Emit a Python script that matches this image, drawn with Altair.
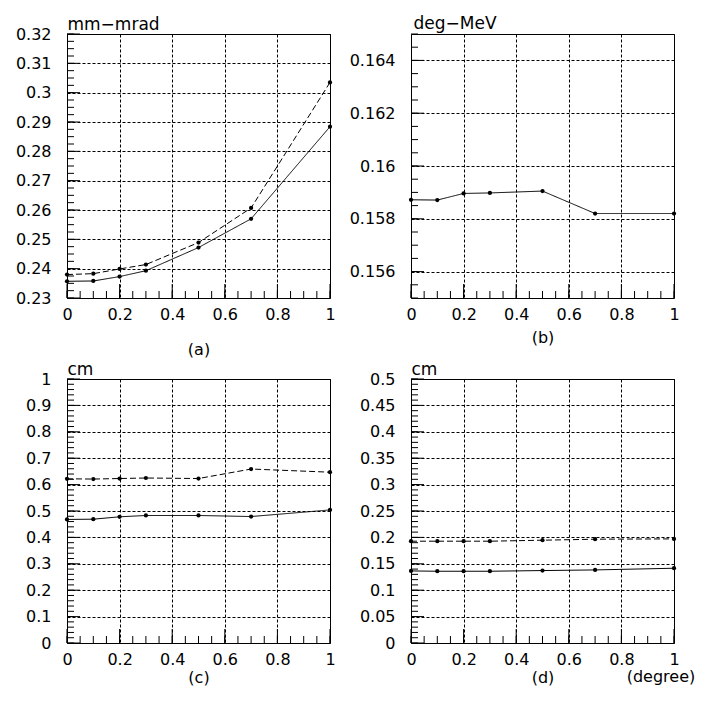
import altair as alt
import numpy as np
import pandas as pd

# ---- data ----
X = [0.0, 0.1, 0.2, 0.3, 0.5, 0.7, 1.0]

a_solid = [0.2357, 0.2358, 0.2373, 0.2393, 0.2472, 0.2570, 0.2884]
a_dashed = [0.2380, 0.2383, 0.2399, 0.2414, 0.2489, 0.2607, 0.3035]
b_solid = [0.15872, 0.15871, 0.15896, 0.15898, 0.15905, 0.15820, 0.15820]
c_solid = [0.468, 0.469, 0.478, 0.483, 0.483, 0.479, 0.504]
c_dashed = [0.622, 0.621, 0.623, 0.625, 0.623, 0.659, 0.647]
d_solid = [0.1365, 0.1359, 0.1359, 0.1359, 0.1372, 0.1384, 0.1416]
d_dashed = [0.1928, 0.1928, 0.1928, 0.1928, 0.1947, 0.1966, 0.1972]

x_ticks = [0, 0.2, 0.4, 0.6, 0.8, 1.0]
a_ticks = [0.23, 0.24, 0.25, 0.26, 0.27, 0.28, 0.29, 0.30, 0.31, 0.32]
b_ticks = [0.156, 0.158, 0.160, 0.162, 0.164]
c_ticks = [0, 0.1, 0.2, 0.3, 0.4, 0.5, 0.6, 0.7, 0.8, 0.9, 1.0]
d_ticks = [0, 0.05, 0.1, 0.15, 0.2, 0.25, 0.3, 0.35, 0.4, 0.45, 0.5]

units = ["mm\u2212mrad", "deg\u2212MeV", "cm", "cm"]
letters = ["(a)", "(b)", "(c)", "(d)"]

W, H = 263, 264
FONT = "DejaVu Sans"


def minor(lo, hi, step):
    n = int(round((hi - lo) / step))
    return [round(lo + i * step, 6) for i in range(n + 1)]


x_minor = minor(0, 1, 0.05)


def panel(series, ydomain, yticks, ystep, unit, letter, letter_y, unit_x=0, unit_y=-5, extra=None):
    rows = []
    for name, vals in series:
        for x, y in zip(X, vals):
            rows.append({"x": x, "y": y, "s": name})
    df = pd.DataFrame(rows)

    xs = alt.X(
        "x:Q",
        scale=alt.Scale(domain=[0, 1], nice=False),
        axis=alt.Axis(
            values=x_ticks, format="~g", grid=True, gridColor="black", gridDash=[3, 2],
            gridOpacity=1, ticks=False, domain=False, labelFont=FONT, labelFontSize=16,
            labelColor="black", labelPadding=8, labelFlush=False,
            title=letter, titleFont=FONT, titleFontSize=16, titleFontWeight="normal",
            titleColor="black", titleY=letter_y, titleBaseline="middle",
        ),
    )
    ys = alt.Y(
        "y:Q",
        scale=alt.Scale(domain=ydomain, nice=False, zero=False),
        axis=alt.Axis(
            values=yticks, format="~g", grid=True, gridColor="black", gridDash=[3, 2],
            gridOpacity=1, ticks=False, domain=False, labelFont=FONT, labelFontSize=16,
            labelColor="black", labelPadding=16, labelFlush=False,
            title=unit, titleFont=FONT, titleFontSize=17, titleFontWeight="normal",
            titleColor="black", titleAngle=0, titleX=unit_x, titleY=unit_y,
            titleAlign="left", titleBaseline="alphabetic",
        ),
    )

    base = alt.Chart(df)
    lines = base.mark_line(color="black", strokeWidth=1).encode(
        x=xs, y=ys,
        strokeDash=alt.StrokeDash("s:N", scale=alt.Scale(domain=["solid", "dashed"],
                                  range=[[1, 0], [6, 3]]), legend=None),
    )
    pts = base.mark_circle(color="black", size=18, opacity=1).encode(x=xs, y=ys)

    ymin = pd.DataFrame({"y": minor(ydomain[0], ydomain[1], ystep)})
    ymaj = pd.DataFrame({"y": yticks})
    xmin = pd.DataFrame({"x": x_minor})
    xmaj = pd.DataFrame({"x": x_ticks})
    t1 = alt.Chart(ymin).mark_rule(color="black", strokeWidth=1).encode(
        y=ys, x=alt.value(0), x2=alt.value(7))
    t2 = alt.Chart(ymaj).mark_rule(color="black", strokeWidth=1).encode(
        y=ys, x=alt.value(0), x2=alt.value(13))
    t3 = alt.Chart(xmin).mark_rule(color="black", strokeWidth=1).encode(
        x=xs, y=alt.value(H), y2=alt.value(H - 7))
    t4 = alt.Chart(xmaj).mark_rule(color="black", strokeWidth=1).encode(
        x=xs, y=alt.value(H), y2=alt.value(H - 14))

    layers = [lines, pts, t1, t2, t3, t4]
    if extra:
        txt = alt.Chart(pd.DataFrame({"t": [extra]})).mark_text(
            font=FONT, fontSize=16, color="black", align="center", baseline="middle"
        ).encode(text="t:N", x=alt.value(250), y=alt.value(H + letter_y))
        layers.append(txt)
    return alt.layer(*layers).properties(width=W, height=H)


pa = panel([("solid", a_solid), ("dashed", a_dashed)], [0.23, 0.32], a_ticks, 0.0025,
           units[0], letters[0], 51)
pb = panel([("solid", b_solid)], [0.155, 0.165], b_ticks, 0.0005,
           units[1], letters[1], 39, unit_x=2, unit_y=-6)
pc = panel([("solid", c_solid), ("dashed", c_dashed)], [0, 1], c_ticks, 0.02,
           units[2], letters[2], 34)
pd_ = panel([("solid", d_solid), ("dashed", d_dashed)], [0, 0.5], d_ticks, 0.01,
            units[3], letters[3], 34, extra="(degree)")

chart = alt.concat(pa, pb, pc, pd_, columns=2, spacing=81, bounds="flush").properties(
    padding={"left": 6, "top": 5, "right": 5, "bottom": 5},
    background="white",
).configure_view(stroke="black", strokeWidth=1)

chart.save("out.html", embed_options={"renderer": "svg", "actions": False})
